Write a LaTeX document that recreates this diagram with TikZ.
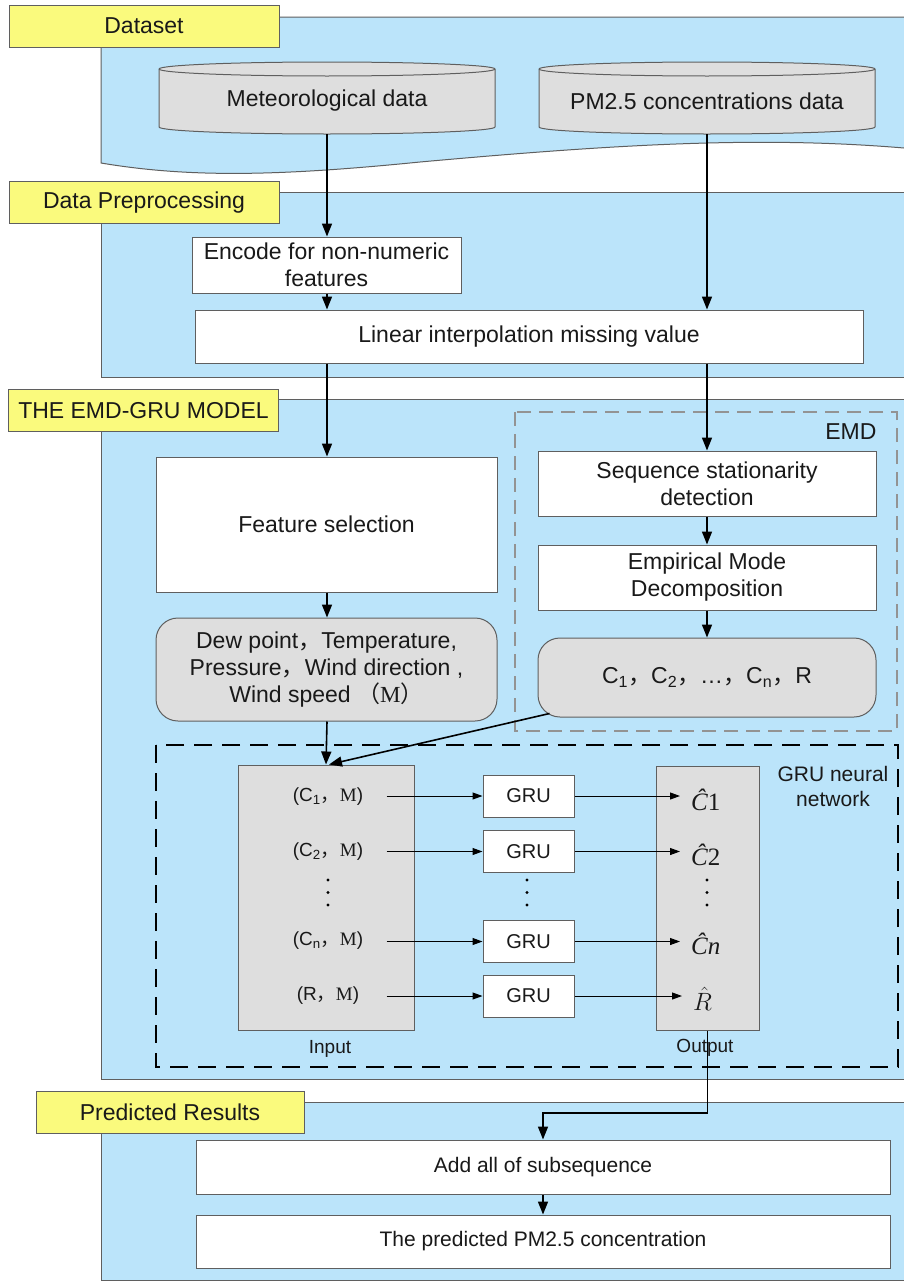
\RequirePackage{fix-cm}
\documentclass[tikz,border=0pt]{standalone}
\usepackage[no-math]{fontspec}
\setmainfont{Liberation Sans}
\newfontfamily\cjk{Noto Sans CJK SC}
\newfontfamily\serifM{Liberation Serif}
\usetikzlibrary{arrows.meta,calc}
\definecolor{pblue}{RGB}{187,228,250}
\definecolor{tyellow}{RGB}{250,250,125}
\definecolor{gfill}{RGB}{222,222,222}
\definecolor{bgray}{RGB}{95,95,95}
\definecolor{txt}{RGB}{25,25,25}
\newcommand{\fw}[1]{{\cjk #1}}
\newcommand{\sM}{{\serifM M}}
\newcommand{\hatC}{{\serifM\itshape Ĉ}}
\begin{document}
\begin{tikzpicture}[x=1pt,y=-1pt,
  font=\fontsize{23}{27}\selectfont, text=txt,
  panel/.style={fill=pblue,draw=bgray,line width=1pt},
  tag/.style={fill=tyellow,draw=bgray,line width=1pt,minimum width=270pt,minimum height=42pt,inner sep=0pt},
  box/.style={fill=white,draw=bgray,line width=1pt,inner sep=0pt,align=center},
  gbox/.style={box,fill=gfill},
  rbox/.style={gbox,rounded corners=22pt},
  grubox/.style={box,minimum width=91pt,minimum height=42pt,font=\fontsize{20}{24}\selectfont},
  arr/.style={-{Triangle[length=13pt,width=10pt]},line width=1.6pt},
  thinarr/.style={-{Triangle[length=10pt,width=7pt]},line width=1pt},
  rowtxt/.style={font=\fontsize{19}{23}\selectfont},
  hattxt/.style={font=\fontsize{25}{29}\selectfont,anchor=west,inner sep=0pt},
  cyl/.style={fill=gfill,draw=bgray,line width=1pt}]
\useasboundingbox (0,0) rectangle (904,1282);
\fill[white] (0,0) rectangle (904,1282);
\clip (0,0) rectangle (904,1282);

% ---------- panels ----------
\draw[panel] (101,163) -- (101,17) -- (915,17) -- (915,148) -- (904,148)
  .. controls (760,136) and (620,144) .. (420,162)
  .. controls (280,176) and (190,178) .. (101,163) -- cycle;
\draw[panel] (101,192) rectangle (915,377);
\draw[panel] (101,399) rectangle (915,1079);
\draw[panel] (101,1102) rectangle (915,1280);

% ---------- tags ----------
\node[tag] (t1) at (144,26) {Dataset};
\node[tag] (t2) at (144,202.5) {Data Preprocessing};
\node[tag] (t3) at (143.5,410.5) {THE EMD-GRU MODEL};
\node[tag,minimum width=268pt] (t4) at (170,1112) {Predicted Results};

% ---------- cylinders ----------
\foreach \cx in {327,707}{
  \draw[cyl] (\cx-168,69) -- (\cx-168,127) arc[start angle=180,end angle=360,x radius=168pt,y radius=7pt]
    -- (\cx+168,69) arc[start angle=0,end angle=180,x radius=168pt,y radius=7pt] -- cycle;
  \draw[cyl,fill=none] (\cx-168,69) arc[start angle=180,end angle=360,x radius=168pt,y radius=7pt];
}
\node[minimum width=336pt,minimum height=72pt,inner sep=0pt] (met) at (327,98) {};
\node at (327,101) {Meteorological data};
\node[minimum width=336pt,minimum height=72pt,inner sep=0pt] (pm) at (707,98) {};
\node at (707,101) {PM2.5 concentrations data};

% ---------- preprocessing ----------
\node[box,minimum width=269pt,minimum height=56pt] (enc) at (326.5,265) {Encode for non-numeric\\features};
\node[box,minimum width=668pt,minimum height=53pt] (lin) at (529,336.5) {Linear interpolation missing value};

% ---------- EMD-GRU model ----------
\draw[draw=gray!85,line width=1.3pt,dash pattern=on 14pt off 8pt] (515,412) rectangle (897,731);
\node[anchor=east] (emdlbl) at (880,432) {EMD};
\node[box,minimum width=341pt,minimum height=135pt] (feat) at (326.5,524.5) {Feature selection};
\node[rbox,minimum width=341pt,minimum height=103pt] (dew) at (326.5,669.5)
  {Dew point\fw{，}Temperature,\\Pressure\fw{，}Wind direction ,\\Wind speed \fw{（}\sM\fw{）}};
\node[box,minimum width=338pt,minimum height=65pt] (seq) at (707,483.5) {Sequence stationarity\\detection};
\node[box,minimum width=338pt,minimum height=65pt] (emd) at (707,577.5) {Empirical Mode\\Decomposition};
\node[rbox,minimum width=338pt,minimum height=79pt] (cb) at (707,677.5)
  {C\textsubscript{1}\fw{，}C\textsubscript{2}\fw{，}\dots\fw{，}C\textsubscript{n}\fw{，}R};

% GRU network frame
\draw[line width=2pt,dash pattern=on 18pt off 10pt] (156,745) rectangle (898,1067);
\node[align=center,font=\fontsize{21}{25}\selectfont] (grulbl) at (833,786) {GRU neural\\network};

\node[gbox,minimum width=176pt,minimum height=265pt] (in) at (326,897.5) {};
\node[gbox,minimum width=103pt,minimum height=264pt] (out) at (707.5,898) {};
\node[font=\fontsize{19}{23}\selectfont] (inlbl) at (330,1049) {Input};
\node[font=\fontsize{19}{23}\selectfont] (outlbl) at (705,1048) {Output};

\node[rowtxt] (r1) at (328,797) {(C\textsubscript{1}\fw{，}\sM)};
\node[rowtxt] (r2) at (328,852) {(C\textsubscript{2}\fw{，}\sM)};
\node[rowtxt] (r3) at (328,941) {(C\textsubscript{n}\fw{，}\sM)};
\node[rowtxt] (r4) at (328,996) {(R\fw{，}\sM)};

\node[grubox] (g1) at (528.5,796) {GRU};
\node[grubox] (g2) at (528.5,851.5) {GRU};
\node[grubox] (g3) at (528.5,941.5) {GRU};
\node[grubox] (g4) at (528.5,996) {GRU};

\node[hattxt] (h1) at (691,800) {\hatC{\serifM 1}};
\node[hattxt] (h2) at (691,855) {\hatC{\serifM 2}};
\node[hattxt] (h3) at (691,944) {\hatC{\serifM\itshape n}};
\node[hattxt] (h4) at (693,999) {$\hat{R}$};

\foreach \px in {328,527,707}{
  \foreach \py in {880,892.5,905}{ \fill (\px,\py) circle[radius=1.7pt]; }
}

% ---------- predicted results ----------
\node[box,minimum width=694pt,minimum height=54pt,font=\fontsize{21}{25}\selectfont] (add) at (543,1167) {Add all of subsequence};
\node[box,minimum width=694pt,minimum height=53pt,font=\fontsize{21}{25}\selectfont] (pred) at (543,1241.5) {The predicted PM2.5 concentration};

% ---------- connectors ----------
\draw[arr] (met.south) -- (met.south |- enc.north);
\draw[arr] (enc.south -| met.south) -- (met.south |- lin.north);
\draw[arr] (pm.south) -- (pm.south |- lin.north);
\draw[arr] (met.south |- lin.south) -- (met.south |- feat.north);
\draw[arr] (pm.south |- lin.south) -- (seq.north);
\draw[arr] (seq) -- (emd);
\draw[arr] (emd) -- (cb);
\draw[arr] (feat.south -| met.south) -- (met.south |- dew.north);
\draw[arr] (dew.south -| met.south) -- (in.north);
\draw[arr] ([shift={(12,-4)}]cb.south west) -- ([xshift=3pt]in.north);
\foreach \i in {1,2,3,4}{
  \draw[thinarr] ([xshift=149pt]in.west |- g\i.west) -- (g\i.west);
  \draw[thinarr] (g\i.east) -- ([xshift=-11pt]h\i.west |- g\i.east);
}
\coordinate (turn) at (707.5,1113);
\draw[arr] (out.south) -- (turn) -| (add.north);
\draw[arr] (add) -- (pred);
\end{tikzpicture}
\end{document}
